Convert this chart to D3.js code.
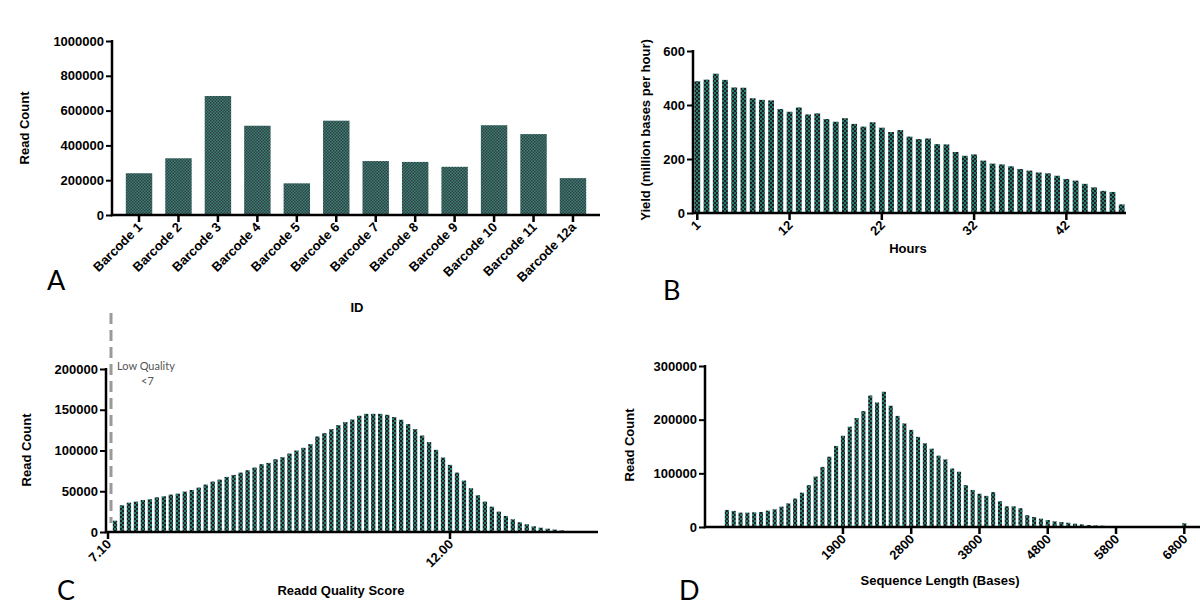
<!DOCTYPE html>
<html>
<head>
<meta charset="UTF-8">
<script src="https://d3js.org/d3.v7.min.js"></script>
<style>
  body { margin: 0; background: #fff; }
  svg text { font-family: "Liberation Sans", Arial, sans-serif; }
  .tick-lbl { font-size: 13px; font-weight: bold; fill: #000; }
  .ax-title { font-size: 13px; font-weight: bold; fill: #000; }
  .panel-lbl { font-family: "Lato", "Open Sans", sans-serif !important; font-size: 27px; fill: #000; }
  .note { font-family: "Lato", "Open Sans", sans-serif !important; font-size: 11px; fill: #555; }
</style>
</head>
<body>
<div id="chart"></div>
<script>
// ---- data ----
var barcodes = ["Barcode 1", "Barcode 2", "Barcode 3", "Barcode 4", "Barcode 5", "Barcode 6",
                "Barcode 7", "Barcode 8", "Barcode 9", "Barcode 10", "Barcode 11", "Barcode 12a"];
var barcodeReads = [240000, 326000, 684000, 513000, 182000, 542000, 310000, 305000, 277000, 516000, 465000, 212000];

// yield per hour, million bases
var hours = d3.range(1, 48);
var hourYield = [488, 494, 516, 493, 465, 464, 425, 419, 417, 385, 375, 391, 365, 369, 348, 338, 351, 330,
                 320, 336, 316, 300, 307, 283, 274, 276, 255, 254, 226, 212, 217, 194, 183, 180, 173, 163,
                 157, 150, 147, 138, 126, 120, 108, 95, 82, 78, 32];
var hourTicks = [1, 11, 21, 31, 41];
var hourTickLabels = ["1", "12", "22", "32", "42"];

// read quality histogram (bin centres)
var qualityBins = d3.range(0, 65).map(function(i) { return +(7.2 + i * 0.1).toFixed(1); });
var qualityReads = [13900, 32800, 36000, 37300, 39300, 40200, 42600, 43800, 45900, 47100,
                    49600, 51600, 54500, 58200, 61900, 64300, 67600, 70000, 72900, 75800,
                    79100, 83200, 84800, 89300, 91800, 96300, 100000, 103300, 107800, 117200,
                    121300, 126200, 131100, 134800, 138000, 142600, 145000, 145000, 145000, 143800,
                    141000, 137700, 132400, 126200, 118400, 110300, 100800, 91400, 82400, 72900,
                    63100, 53700, 45100, 37300, 31100, 25000, 19700, 15600, 11900, 9500,
                    7000, 5300, 4100, 3000, 2000];
var qualityTicks = [7.1, 12.0];

// sequence length histogram (100-base bins)
var lengthBins = d3.range(100, 7200, 100);
var lengthReads = [1500, 31800, 30000, 26800, 26800, 27400, 28000, 30500, 33000, 38000,
                   44000, 53000, 64000, 78000, 94000, 112000, 131000, 151000, 170000, 187000,
                   203000, 216000, 245000, 232000, 252000, 226000, 207000, 193000, 181000, 168000,
                   156000, 146000, 133000, 126000, 109000, 103000, 78000, 69000, 62000, 58000,
                   65000, 48000, 38600, 38600, 35000, 22000, 18700, 15600, 13000, 10600,
                   9300, 8000, 6200, 5000, 3700, 3000, 2500, 1900, 1200, 0,
                   0, 0, 0, 0, 0, 0, 0, 0, 7000, 0, 0];
var lengthTicks = [1900, 2900, 3900, 4900, 5900, 6900];
var lengthTickLabels = ["1900", "2800", "3800", "4800", "5800", "6800"];

// ---- svg ----
var svg = d3.select("#chart").append("svg")
    .attr("width", 1200)
    .attr("height", 607);

var defs = svg.append("defs");
// fine dither for panel A
var pA = defs.append("pattern").attr("id", "ditherA")
    .attr("width", 3).attr("height", 3).attr("patternUnits", "userSpaceOnUse");
pA.append("rect").attr("width", 3).attr("height", 3).attr("fill", "#3f7d77");
pA.append("rect").attr("width", 1.5).attr("height", 1.5).attr("fill", "#2c4140");
pA.append("rect").attr("x", 1.5).attr("y", 1.5).attr("width", 1.5).attr("height", 1.5).attr("fill", "#2c4140");
// coarser checker for histograms
var pB = defs.append("pattern").attr("id", "checker")
    .attr("width", 4).attr("height", 4).attr("patternUnits", "userSpaceOnUse");
pB.append("rect").attr("width", 4).attr("height", 4).attr("fill", "#2b7d74");
pB.append("rect").attr("width", 2).attr("height", 2).attr("fill", "#1b1f1f");
pB.append("rect").attr("x", 2).attr("y", 2).attr("width", 2).attr("height", 2).attr("fill", "#1b1f1f");

function axisLines(x0, xEnd, yTop, y0) {
  svg.append("line").attr("x1", x0).attr("x2", x0).attr("y1", yTop - 1).attr("y2", y0 + 1.2)
     .attr("stroke", "#000").attr("stroke-width", 2.5);
  svg.append("line").attr("x1", x0 - 1.2).attr("x2", xEnd).attr("y1", y0).attr("y2", y0)
     .attr("stroke", "#000").attr("stroke-width", 2.5);
}

function yAxis(y, x0, ticks) {
  var g = svg.append("g").attr("transform", "translate(" + x0 + ",0)")
      .call(d3.axisLeft(y).tickValues(ticks).tickSize(6).tickPadding(2).tickFormat(d3.format("d")));
  g.select(".domain").remove();
  g.selectAll(".tick line").attr("stroke", "#000").attr("stroke-width", 2);
  g.selectAll(".tick text").attr("class", "tick-lbl").attr("font-size", null).attr("font-family", null);
}

function xTicks(positions, labels, y0) {
  positions.forEach(function(px, i) {
    svg.append("line").attr("x1", px).attr("x2", px).attr("y1", y0).attr("y2", y0 + 7)
       .attr("stroke", "#000").attr("stroke-width", 2.5);
    svg.append("text").attr("class", "tick-lbl")
       .attr("text-anchor", "end")
       .attr("transform", "translate(" + (px + 4) + "," + (y0 + 13) + ") rotate(-45)")
       .text(labels[i]);
  });
}

function yTitle(txt, cx, cy) {
  svg.append("text").attr("class", "ax-title").attr("text-anchor", "middle")
     .attr("transform", "translate(" + cx + "," + cy + ") rotate(-90)").text(txt);
}
function xTitle(txt, cx, cy) {
  svg.append("text").attr("class", "ax-title").attr("text-anchor", "middle")
     .attr("x", cx).attr("y", cy).text(txt);
}
function panelLabel(txt, x, y) {
  svg.append("text").attr("class", "panel-lbl").attr("x", x).attr("y", y).text(txt);
}

// ---- Panel A ----
var xA = d3.scaleBand().domain(barcodes).range([112, 600]).paddingInner(0.33).paddingOuter(0.35);
var yA = d3.scaleLinear().domain([0, 1000000]).range([215, 41]);
svg.append("g").selectAll("rect").data(barcodes).enter().append("rect")
    .attr("x", function(d) { return xA(d); })
    .attr("width", xA.bandwidth())
    .attr("y", function(d, i) { return yA(barcodeReads[i]); })
    .attr("height", function(d, i) { return yA(0) - yA(barcodeReads[i]); })
    .attr("fill", "url(#ditherA)");
axisLines(112, 600, 41, 215);
yAxis(yA, 112, [0, 200000, 400000, 600000, 800000, 1000000]);
xTicks(barcodes.map(function(d) { return xA(d) + xA.bandwidth() / 2; }), barcodes, 215);
yTitle("Read Count", 29, 128);
xTitle("ID", 357, 312);
panelLabel("A", 47, 290);

// ---- Panel B ----
var xB = d3.scaleBand().domain(hours).range([693, 1126]).paddingInner(0.37).paddingOuter(0.15);
var yB = d3.scaleLinear().domain([0, 600]).range([213, 51]);
svg.append("g").selectAll("rect").data(hours).enter().append("rect")
    .attr("x", function(d) { return xB(d); })
    .attr("width", xB.bandwidth())
    .attr("y", function(d, i) { return yB(hourYield[i]); })
    .attr("height", function(d, i) { return yB(0) - yB(hourYield[i]); })
    .attr("fill", "url(#checker)");
axisLines(693, 1126, 51, 213);
yAxis(yB, 693, [0, 200, 400, 600]);
xTicks(hourTicks.map(function(h) { return xB(h) + xB.bandwidth() / 2; }), hourTickLabels, 213);
yTitle("Yield (million bases per hour)", 650, 130);
xTitle("Hours", 908, 253);
panelLabel("B", 663, 300);

// ---- Panel C ----
var xC = d3.scaleLinear().domain([7.1, 12.0]).range([108, 450]);
var yC = d3.scaleLinear().domain([0, 200000]).range([532, 369]);
var bwC = (xC(7.2) - xC(7.1)) * 0.62;
svg.append("g").selectAll("rect").data(qualityBins).enter().append("rect")
    .attr("x", function(d) { return xC(d) - bwC / 2; })
    .attr("width", bwC)
    .attr("y", function(d, i) { return yC(qualityReads[i]); })
    .attr("height", function(d, i) { return yC(0) - yC(qualityReads[i]); })
    .attr("fill", "url(#checker)");
axisLines(106, 598, 369, 532);
yAxis(yC, 106, [0, 50000, 100000, 150000, 200000]);
xTicks(qualityTicks.map(function(d) { return xC(d); }), qualityTicks.map(d3.format(".2f")), 532);
// low quality cut-off
svg.append("line").attr("x1", 111).attr("x2", 111).attr("y1", 313).attr("y2", 523)
   .attr("stroke", "#9a9a9a").attr("stroke-width", 3).attr("stroke-dasharray", "11,6");
svg.append("text").attr("class", "note").attr("x", 117).attr("y", 370).text("Low Quality");
svg.append("text").attr("class", "note").attr("x", 141).attr("y", 385).text("<7");
yTitle("Read Count", 31, 450);
xTitle("Readd Quality Score", 341, 595);
panelLabel("C", 57, 600);

// ---- Panel D ----
var xD = d3.scaleBand().domain(lengthBins).range([718, 1200]).paddingInner(0.4).paddingOuter(0);
var yD = d3.scaleLinear().domain([0, 300000]).range([527, 366]);
svg.append("g").selectAll("rect").data(lengthBins).enter().append("rect")
    .attr("x", function(d) { return xD(d); })
    .attr("width", xD.bandwidth())
    .attr("y", function(d, i) { return yD(lengthReads[i]); })
    .attr("height", function(d, i) { return yD(0) - yD(lengthReads[i]); })
    .attr("fill", "url(#checker)");
axisLines(705, 1200, 366, 527);
yAxis(yD, 705, [0, 100000, 200000, 300000]);
xTicks(lengthTicks.map(function(d) { return xD(d) + xD.bandwidth() / 2; }), lengthTickLabels, 527);
yTitle("Read Count", 634, 445);
xTitle("Sequence Length (Bases)", 940, 585);
panelLabel("D", 679, 600);
</script>
</body>
</html>
